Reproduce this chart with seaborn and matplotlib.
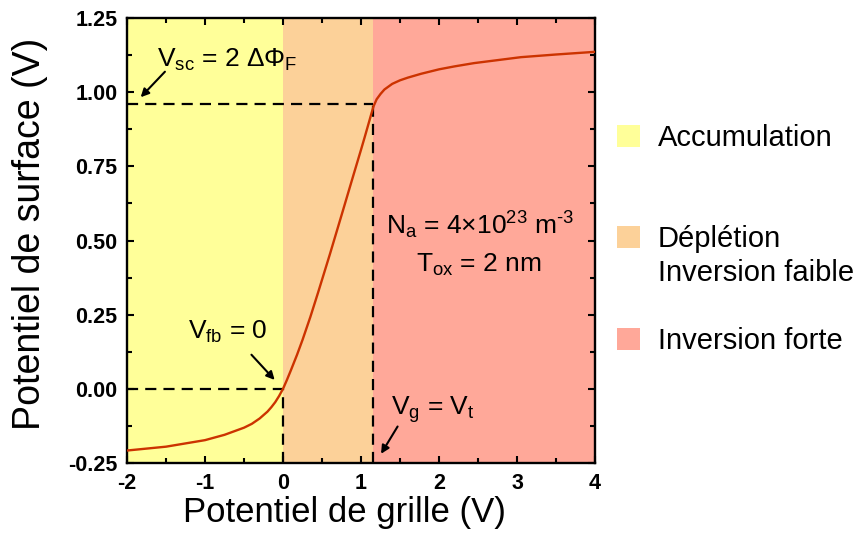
import matplotlib
matplotlib.use("Agg")
import matplotlib.pyplot as plt
from matplotlib.patches import Patch
from matplotlib.ticker import MultipleLocator, FormatStrFormatter
import pandas as pd
import seaborn as sns

# Surface potential vs gate voltage (MOS capacitor, Na = 4e23 m^-3, Tox = 2 nm)
gate_voltage = [-2.0, -1.5, -1.0, -0.75, -0.5, -0.4, -0.3, -0.2, -0.15, -0.1,
                -0.05, 0.0, 0.05, 0.1, 0.18, 0.25, 0.35, 0.45, 0.6, 0.75,
                0.9, 1.0, 1.05, 1.1, 1.13, 1.16, 1.2, 1.25, 1.3, 1.4,
                1.5, 1.6, 1.77, 2.0, 2.2, 2.45, 3.05, 3.5, 4.0]
surface_potential = [-0.208, -0.195, -0.173, -0.155, -0.131, -0.118, -0.100, -0.077, -0.062, -0.045,
                     -0.024, 0.0, 0.030, 0.062, 0.115, 0.165, 0.242, 0.325, 0.453, 0.585,
                     0.718, 0.806, 0.851, 0.897, 0.925, 0.952, 0.976, 0.994, 1.009, 1.028,
                     1.040, 1.049, 1.062, 1.077, 1.087, 1.098, 1.118, 1.127, 1.136]

v_fb = 0.0          # flat-band voltage
v_t = 1.16          # threshold voltage
psi_inv = 0.96      # 2 * delta Phi_F

region_names = ["Accumulation", "Déplétion", "Inversion forte"]
region_colors = ["#FFFF99", "#FCD199", "#FFA899"]

x_min, x_max = -2.0, 4.0
y_min, y_max = -0.25, 1.25

sns.set_style("ticks")
plt.rcParams["font.family"] = ["Liberation Sans", "DejaVu Sans"]
plt.rcParams["mathtext.fontset"] = "custom"
plt.rcParams["mathtext.rm"] = "Liberation Sans"
plt.rcParams["mathtext.it"] = "Liberation Sans"
plt.rcParams["mathtext.default"] = "regular"
plt.rcParams["axes.unicode_minus"] = False
for key in ["text.color", "axes.labelcolor", "xtick.color", "ytick.color", "axes.edgecolor"]:
    plt.rcParams[key] = "black"

fig = plt.figure(figsize=(8.56, 5.41), dpi=100)
ax = fig.add_axes([0.1484, 0.1442, 0.5467, 0.8225])

# operating regions
bounds = [x_min, v_fb, v_t, x_max]
for i, c in enumerate(region_colors):
    ax.axvspan(bounds[i], bounds[i + 1], color=c, lw=0, zorder=0)

df = pd.DataFrame({"Vg": gate_voltage, "Vs": surface_potential})
sns.lineplot(data=df, x="Vg", y="Vs", ax=ax, color="#CC3300", lw=1.7, zorder=3)

# guide lines at flat-band and threshold
dash = dict(color="black", lw=1.6, ls=(0, (5, 3.2)), zorder=2)
ax.plot([x_min, v_t], [psi_inv, psi_inv], **dash)
ax.plot([v_t, v_t], [y_min, psi_inv], **dash)
ax.plot([x_min, v_fb], [0, 0], **dash)
ax.plot([v_fb, v_fb], [y_min, 0], **dash)

ax.set_xlim(x_min, x_max)
ax.set_ylim(y_min, y_max)
ax.xaxis.set_major_locator(MultipleLocator(1))
ax.xaxis.set_minor_locator(MultipleLocator(0.5))
ax.yaxis.set_major_locator(MultipleLocator(0.25))
ax.yaxis.set_minor_locator(MultipleLocator(0.125))
ax.yaxis.set_major_formatter(FormatStrFormatter("%.2f"))
ax.tick_params(which="both", direction="in", top=True, right=True, width=1.5, color="black")
ax.tick_params(which="major", length=5, labelsize=15.5, pad=7)
ax.tick_params(which="minor", length=3.5)
for lab in ax.get_xticklabels() + ax.get_yticklabels():
    lab.set_fontweight("bold")
for s in ax.spines.values():
    s.set_linewidth(1.7)
    s.set_color("black")

ax.set_xlabel("Potentiel de grille (V)", fontsize=25)
ax.set_ylabel("Potentiel de surface (V)", fontsize=27)
ax.xaxis.set_label_coords(0.4637, -0.075)
ax.yaxis.set_label_coords(-0.169, 0.515)

# annotations
fs = 19
ax.text(-1.616, 1.086, r"V$_{sc}$ = 2 ΔΦ$_F$", fontsize=fs)
ax.text(-1.22, 0.169, r"V$_{fb}$ = 0", fontsize=fs)
ax.text(1.389, -0.088, r"V$_g$ = V$_t$", fontsize=fs)
ax.text(1.325, 0.519, r"N$_a$ = 4×10$^{23}$ m$^{\text{-}3}$", fontsize=fs)
ax.text(1.708, 0.394, r"T$_{ox}$ = 2 nm", fontsize=fs)

arrow = dict(arrowstyle="-|>", color="black", lw=1.5, mutation_scale=12, shrinkA=0, shrinkB=0)
ax.annotate("", xy=(-1.825, 0.983), xytext=(-1.514, 1.069), arrowprops=arrow)
ax.annotate("", xy=(-0.107, 0.030), xytext=(-0.405, 0.115), arrowprops=arrow)
ax.annotate("", xy=(1.257, -0.219), xytext=(1.469, -0.127), arrowprops=arrow)

# region key to the right of the axes
key_fs = 21
key_x = 617 / 856
key_common = dict(loc="center left", frameon=False, fontsize=key_fs, handlelength=0.78,
                  handleheight=0.75, handletextpad=0.62, borderpad=0, borderaxespad=0,
                  bbox_transform=fig.transFigure)
leg1 = ax.legend([Patch(facecolor=region_colors[0], lw=0)], [region_names[0]],
                 bbox_to_anchor=(key_x, 1 - 138 / 541), **key_common)
ax.add_artist(leg1)
leg2 = ax.legend([Patch(facecolor=region_colors[1], lw=0), Patch(alpha=0, lw=0)],
                 [region_names[1], "Inversion faible"], labelspacing=0.2,
                 bbox_to_anchor=(key_x, 1 - 256 / 541), **key_common)
ax.add_artist(leg2)
ax.legend([Patch(facecolor=region_colors[2], lw=0)], [region_names[2]],
          bbox_to_anchor=(key_x, 1 - 341 / 541), **key_common)

fig.savefig("out.png", dpi=100)
